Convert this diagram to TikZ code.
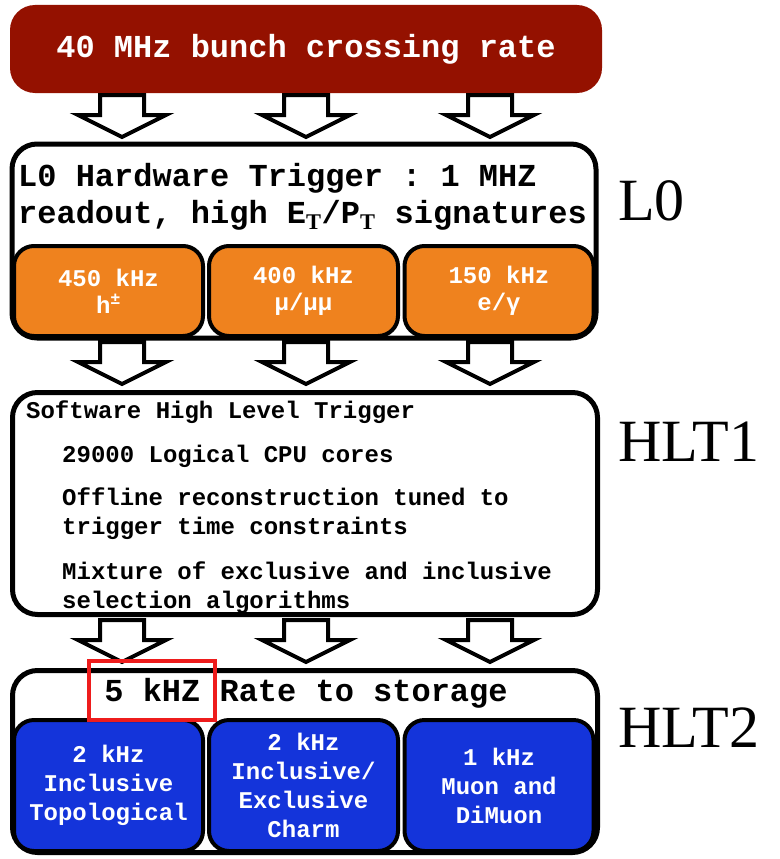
\documentclass[tikz,border=0pt]{standalone}
\usepackage{fontspec}
\setmonofont{Liberation Mono}
\newfontfamily\labelfont{Liberation Serif}
\definecolor{darkred}{HTML}{941100}
\definecolor{lorange}{HTML}{EF821E}
\definecolor{lblue}{HTML}{1434DA}
\definecolor{markred}{HTML}{EE1C1C}
\newcommand{\subT}{\textsubscript{\labelfont\bfseries T}}
\begin{document}
\begin{tikzpicture}[x=1pt,y=-1pt,
  bigfont/.style={font=\ttfamily\bfseries\fontsize{32}{37}\selectfont},
  smallfont/.style={font=\ttfamily\bfseries\fontsize{24}{29}\selectfont},
  outerbox/.style={draw=black,line width=5pt,fill=white,rounded corners=25pt,inner sep=0pt},
  subbox/.style={draw=black,line width=4pt,rounded corners=20pt,inner sep=0pt,
    minimum width=189pt,text=white,align=center,smallfont},
  levellabel/.style={font=\labelfont\fontsize{60}{60}\selectfont,anchor=west,inner sep=0pt},
  downarrow/.pic={\draw[line width=4pt,fill=white,line join=miter]
      (-22,0) -- (22,0) -- (22,20) -- (44,20) -- (0,42) -- (-44,20) -- (-22,20) -- cycle;}
]
\useasboundingbox (0,0) rectangle (779,859);

% top box
\node[fill=darkred,rounded corners=25pt,minimum width=592pt,minimum height=88pt,inner sep=0pt,
  bigfont,text=white] (rate) at (306,49) {40 MHz bunch crossing rate};

% arrows row 1
\coordinate (a1) at (122,95);
\coordinate (a2) at (306,95);
\coordinate (a3) at (490,95);
\foreach \c in {a1,a2,a3} \pic at (\c) {downarrow};

% L0 box
\node[outerbox,minimum width=584pt,minimum height=194pt] (l0) at (304,241) {};
\node[bigfont,anchor=west,align=left,inner sep=0pt] (l0text) at (18,197)
  {L0 Hardware Trigger : 1 MHZ\\readout, high E\subT/P\subT{} signatures};
\node[subbox,fill=lorange,minimum height=90pt,font=\ttfamily\bfseries\fontsize{24}{27}\selectfont] (o1) at (108.5,291) {450 kHz\\h\textsuperscript{±}};
\node[subbox,fill=lorange,minimum height=90pt,font=\ttfamily\bfseries\fontsize{24}{27}\selectfont] (o2) at (303.5,291) {400 kHz\\μ/μμ};
\node[subbox,fill=lorange,minimum height=90pt,font=\ttfamily\bfseries\fontsize{24}{27}\selectfont] (o3) at (499,291) {150 kHz\\e/γ};

% arrows row 2
\coordinate (b1) at (122,342);
\coordinate (b2) at (306,342);
\coordinate (b3) at (490,342);
\foreach \c in {b1,b2,b3} \pic at (\c) {downarrow};

% HLT1 box
\node[outerbox,minimum width=585pt,minimum height=222pt] (hlt1) at (305,503.5) {};
\node[smallfont,anchor=west,inner sep=0pt] (h1a) at (26,412) {Software High Level Trigger};
\node[smallfont,anchor=west,inner sep=0pt] (h1b) at (62,456) {29000 Logical CPU cores};
\node[smallfont,anchor=west,align=left,inner sep=0pt] (h1c) at (62,513.5) {Offline reconstruction tuned to\\trigger time constraints};
\node[smallfont,anchor=west,align=left,inner sep=0pt] (h1d) at (62,587.5) {Mixture of exclusive and inclusive\\selection algorithms};

% arrows row 3
\coordinate (c1) at (122,620);
\coordinate (c2) at (306,620);
\coordinate (c3) at (490,620);
\foreach \c in {c1,c2,c3} \pic at (\c) {downarrow};

% HLT2 box
\node[outerbox,minimum width=585pt,minimum height=182pt] (hlt2) at (305,761.5) {};
\node[bigfont,inner sep=0pt] (storage) at (306,693) {5 kHZ Rate to storage};
\node[subbox,fill=lblue,minimum height=131pt] (u1) at (108.5,785.5) {2 kHz\\Inclusive\\Topological};
\node[subbox,fill=lblue,minimum height=131pt] (u2) at (303.5,785.5) {2 kHz\\Inclusive/\\Exclusive\\Charm};
\node[subbox,fill=lblue,minimum height=131pt] (u3) at (499,785.5) {1 kHz\\Muon and\\DiMuon};

% highlight
\node[draw=markred,line width=4pt,minimum width=126pt,minimum height=59pt,inner sep=0pt] (mark) at (152,690.5) {};

% level labels
\node[levellabel] (lab0) at (618,201) {L0};
\node[levellabel] (lab1) at (618,442) {HLT1};
\node[levellabel] (lab2) at (618,728) {HLT2};
\end{tikzpicture}
\end{document}
